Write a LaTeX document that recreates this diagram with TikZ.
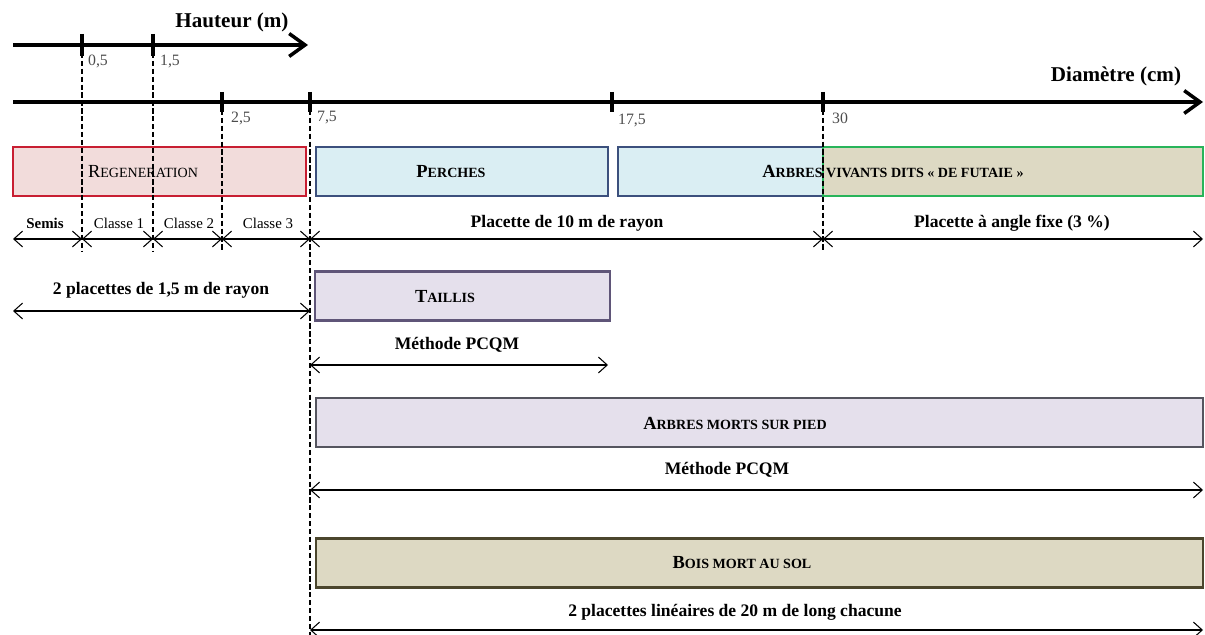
\documentclass[tikz,border=0pt]{standalone}
\usepackage{fontspec}
\setmainfont{Liberation Serif}
\usetikzlibrary{arrows.meta,positioning}

\definecolor{regenfond}{RGB}{242,220,219}
\definecolor{regenbord}{RGB}{200,30,50}
\definecolor{perchefond}{RGB}{218,238,243}
\definecolor{perchebord}{RGB}{60,80,125}
\definecolor{futaiefond}{RGB}{221,217,195}
\definecolor{futaiebord}{RGB}{40,180,90}
\definecolor{taillisfond}{RGB}{229,224,236}
\definecolor{taillisbord}{RGB}{95,85,120}
\definecolor{mortsbord}{RGB}{85,85,95}
\definecolor{boisbord}{RGB}{75,70,45}

% petites capitales faites a la main
\newcommand\pcap[2]{{\fontsize{10.5}{12}\selectfont #1}{\fontsize{8}{10}\selectfont\MakeUppercase{#2}}}

\begin{document}
\begin{tikzpicture}[
    x=0.02cm, y=-0.02cm,
    axe/.style={line width=2pt, -{Straight Barb[length=9pt,width=13pt]}},
    graduation/.style={line width=2pt},
    repere/.style={line width=1pt, dash pattern=on 3pt off 1.5pt},
    cote/.style={line width=0.6pt, {Straight Barb[length=5pt,width=9pt]}-{Straight Barb[length=5pt,width=9pt]}},
    bloc/.style={draw, line width=1.3pt, minimum height=0.98cm, inner sep=0pt},
    titre/.style={font=\bfseries\fontsize{12}{14}\selectfont},
    valeur/.style={font=\fontsize{9}{11}\selectfont, text=black!70, anchor=west, inner sep=1pt},
    methode/.style={font=\bfseries\fontsize{10}{12}\selectfont},
    classe/.style={font=\fontsize{8.5}{10}\selectfont},
    categorie/.style={font=\bfseries},
]
    \useasboundingbox (0,0) rectangle (1205,635);

    % Axe des hauteurs
    \coordinate (h0) at (13,45);
    \coordinate (h1) at (308,45);
    \coordinate (h05) at (82,45);
    \coordinate (h15) at (153,45);
    \draw[axe] (h0) -- (h1);
    \draw[graduation] (h05) ++(0,-11) -- ++(0,22);
    \draw[graduation] (h15) ++(0,-11) -- ++(0,22);
    \node[titre] (hauteur) at (232,22) {Hauteur (m)};
    \node[valeur] (v05) at (86,61) {0,5};
    \node[valeur] (v15) at (158,61) {1,5};

    % Axe des diametres
    \coordinate (d0) at (13,102);
    \coordinate (d1) at (1203,102);
    \coordinate (d25) at (222,102);
    \coordinate (d75) at (310,102);
    \coordinate (d175) at (612,102);
    \coordinate (d30) at (823,102);
    \draw[axe] (d0) -- (d1);
    \draw[graduation] (d25) ++(0,-10) -- ++(0,20);
    \draw[graduation] (d75) ++(0,-10) -- ++(0,20);
    \draw[graduation] (d175) ++(0,-10) -- ++(0,20);
    \draw[graduation] (d30) ++(0,-10) -- ++(0,20);
    \node[titre] (diametre) at (1116,76) {Diamètre (cm)};
    \node[valeur] (v25) at (229,118) {2,5};
    \node[valeur] (v75) at (315,118) {7,5};
    \node[valeur] (v175) at (616,120) {17,5};
    \node[valeur] (v30) at (830,118) {30};

    % Blocs
    \node[bloc, draw=regenbord, fill=regenfond, minimum width=5.86cm] (regen) at (159.5,171.5) {};
    \node[bloc, draw=perchebord, fill=perchefond, minimum width=5.84cm] (perches) at (462,171.5) {};
    \node[bloc, draw=perchebord, fill=perchefond, minimum width=11.7cm] (vivants) at (910.5,171.5) {};
    \node[bloc, draw=futaiebord, fill=futaiefond, minimum width=7.6cm] (futaie) at (1013,171.5) {};
    \node[bloc, draw=taillisbord, fill=taillisfond, minimum width=5.9cm] (taillis) at (462.5,296) {};
    \node[bloc, draw=mortsbord, fill=taillisfond, minimum width=17.74cm] (morts) at (759.5,422.5) {};
    \node[bloc, draw=boisbord, fill=futaiefond, minimum width=17.74cm] (bois) at (759.5,563) {};

    \node[font=\mdseries] (regentxt) at (143,172) {\pcap{R}{egeneration}};
    \node[categorie] (perchestxt) at (451,172) {\pcap{P}{erches}};
    \node[categorie] (vivantstxt) at (893,172) {\pcap{A}{rbres vivants dits « de futaie »}};
    \node[categorie] (taillistxt) at (445,297) {\pcap{T}{aillis}};
    \node[categorie] (mortstxt) at (735,423) {\pcap{A}{rbres morts sur pied}};
    \node[categorie] (boistxt) at (742,563) {\pcap{B}{ois mort au sol}};

    % Lignes de repere
    \coordinate (g05) at (82,252);
    \coordinate (g15) at (153,252);
    \coordinate (g25) at (222,252);
    \coordinate (g75) at (310,635);
    \coordinate (g30) at (823,252);
    \draw[repere] (h05) -- (g05);
    \draw[repere] (h15) -- (g15);
    \draw[repere] (d25) -- (g25);
    \draw[repere] (d75) -- (g75);
    \draw[repere] (d30) -- (g30);

    % Classes et placettes
    \coordinate (a0) at (13,239);
    \coordinate (a1) at (82,239);
    \coordinate (a2) at (153,239);
    \coordinate (a3) at (222,239);
    \coordinate (a4) at (310,239);
    \coordinate (a5) at (823,239);
    \coordinate (a6) at (1203,239);
    \draw[cote] (a0) -- (a1);
    \draw[cote] (a1) -- (a2);
    \draw[cote] (a2) -- (a3);
    \draw[cote] (a3) -- (a4);
    \draw[cote] (a4) -- (a5);
    \draw[cote] (a5) -- (a6);
    \node[classe, font=\bfseries\fontsize{8.5}{10}\selectfont] (semis) at (45,223) {Semis};
    \node[classe] (classe1) at (119,223) {Classe 1};
    \node[classe] (classe2) at (189,223) {Classe 2};
    \node[classe] (classe3) at (268,223) {Classe 3};
    \node[methode] (rayon10) at (567,223) {Placette de 10 m de rayon};
    \node[methode] (angle) at (1012,223) {Placette à angle fixe (3 \%)};

    % Regeneration
    \coordinate (b0) at (13,311);
    \coordinate (b1) at (310,311);
    \draw[cote] (b0) -- (b1);
    \node[methode] (rayon15) at (161,290) {2 placettes de 1,5 m de rayon};

    % Taillis
    \coordinate (c0) at (310,365);
    \coordinate (c1) at (608,365);
    \draw[cote] (c0) -- (c1);
    \node[methode] (pcqm1) at (457,345) {Méthode PCQM};

    % Arbres morts sur pied
    \coordinate (e0) at (310,490);
    \coordinate (e1) at (1203,490);
    \draw[cote] (e0) -- (e1);
    \node[methode] (pcqm2) at (727,470) {Méthode PCQM};

    % Bois mort au sol
    \coordinate (f0) at (310,630);
    \coordinate (f1) at (1203,630);
    \draw[cote] (f0) -- (f1);
    \node[methode] (lineaires) at (735,612) {2 placettes linéaires de 20 m de long chacune};
\end{tikzpicture}
\end{document}
